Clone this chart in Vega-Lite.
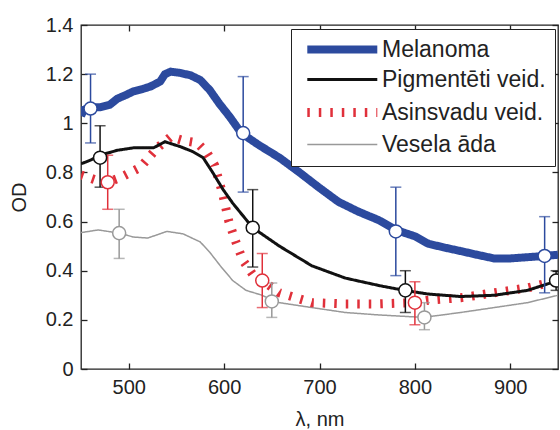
{
  "$schema": "https://vega.github.io/schema/vega-lite/v6.json",
  "width": 477,
  "height": 344,
  "autosize": {"type": "none"},
  "padding": {"left": 81, "top": 25, "right": 2, "bottom": 61},
  "config": {
    "font": "Liberation Sans",
    "view": {"stroke": "#222", "strokeWidth": 1.3},
    "axis": {
      "grid": false,
      "domain": false,
      "tickColor": "#222",
      "tickWidth": 1.3,
      "tickSize": 6,
      "offset": -6,
      "labelColor": "#222",
      "labelFontSize": 20,
      "labelPadding": 8,
      "titleFontSize": 20,
      "titleFontWeight": "normal",
      "titleColor": "#222"
    }
  },
  "datasets": {
    "curves": [
      {"series": "Vesela āda", "wl": 450, "od": 0.555},
      {"series": "Vesela āda", "wl": 468, "od": 0.566},
      {"series": "Vesela āda", "wl": 490, "od": 0.553},
      {"series": "Vesela āda", "wl": 505, "od": 0.537},
      {"series": "Vesela āda", "wl": 520, "od": 0.533},
      {"series": "Vesela āda", "wl": 540, "od": 0.56},
      {"series": "Vesela āda", "wl": 557, "od": 0.55},
      {"series": "Vesela āda", "wl": 575, "od": 0.517},
      {"series": "Vesela āda", "wl": 585, "od": 0.475},
      {"series": "Vesela āda", "wl": 596, "od": 0.42},
      {"series": "Vesela āda", "wl": 609, "od": 0.36},
      {"series": "Vesela āda", "wl": 623, "od": 0.32},
      {"series": "Vesela āda", "wl": 640, "od": 0.30},
      {"series": "Vesela āda", "wl": 650, "od": 0.28},
      {"series": "Vesela āda", "wl": 658, "od": 0.27},
      {"series": "Vesela āda", "wl": 692, "od": 0.25},
      {"series": "Vesela āda", "wl": 727, "od": 0.23},
      {"series": "Vesela āda", "wl": 762, "od": 0.22},
      {"series": "Vesela āda", "wl": 809, "od": 0.21},
      {"series": "Vesela āda", "wl": 848, "od": 0.23},
      {"series": "Vesela āda", "wl": 883, "od": 0.25},
      {"series": "Vesela āda", "wl": 918, "od": 0.27},
      {"series": "Vesela āda", "wl": 950, "od": 0.30},

      {"series": "Asinsvadu veid.", "wl": 450, "od": 0.79},
      {"series": "Asinsvadu veid.", "wl": 465, "od": 0.77},
      {"series": "Asinsvadu veid.", "wl": 478, "od": 0.76},
      {"series": "Asinsvadu veid.", "wl": 492, "od": 0.78},
      {"series": "Asinsvadu veid.", "wl": 512, "od": 0.82},
      {"series": "Asinsvadu veid.", "wl": 530, "od": 0.90},
      {"series": "Asinsvadu veid.", "wl": 544, "od": 0.945},
      {"series": "Asinsvadu veid.", "wl": 557, "od": 0.93},
      {"series": "Asinsvadu veid.", "wl": 572, "od": 0.92},
      {"series": "Asinsvadu veid.", "wl": 582, "od": 0.88},
      {"series": "Asinsvadu veid.", "wl": 590, "od": 0.83},
      {"series": "Asinsvadu veid.", "wl": 598, "od": 0.72},
      {"series": "Asinsvadu veid.", "wl": 605, "od": 0.60},
      {"series": "Asinsvadu veid.", "wl": 612, "od": 0.52},
      {"series": "Asinsvadu veid.", "wl": 620, "od": 0.44},
      {"series": "Asinsvadu veid.", "wl": 630, "od": 0.385},
      {"series": "Asinsvadu veid.", "wl": 640, "od": 0.36},
      {"series": "Asinsvadu veid.", "wl": 658, "od": 0.31},
      {"series": "Asinsvadu veid.", "wl": 692, "od": 0.27},
      {"series": "Asinsvadu veid.", "wl": 727, "od": 0.265},
      {"series": "Asinsvadu veid.", "wl": 762, "od": 0.265},
      {"series": "Asinsvadu veid.", "wl": 800, "od": 0.27},
      {"series": "Asinsvadu veid.", "wl": 814, "od": 0.28},
      {"series": "Asinsvadu veid.", "wl": 848, "od": 0.29},
      {"series": "Asinsvadu veid.", "wl": 883, "od": 0.31},
      {"series": "Asinsvadu veid.", "wl": 918, "od": 0.33},
      {"series": "Asinsvadu veid.", "wl": 950, "od": 0.36},

      {"series": "Pigmentēti veid.", "wl": 450, "od": 0.835},
      {"series": "Pigmentēti veid.", "wl": 460, "od": 0.85},
      {"series": "Pigmentēti veid.", "wl": 470, "od": 0.87},
      {"series": "Pigmentēti veid.", "wl": 488, "od": 0.89},
      {"series": "Pigmentēti veid.", "wl": 505, "od": 0.90},
      {"series": "Pigmentēti veid.", "wl": 526, "od": 0.90},
      {"series": "Pigmentēti veid.", "wl": 538, "od": 0.925},
      {"series": "Pigmentēti veid.", "wl": 554, "od": 0.905},
      {"series": "Pigmentēti veid.", "wl": 567, "od": 0.885},
      {"series": "Pigmentēti veid.", "wl": 578, "od": 0.86},
      {"series": "Pigmentēti veid.", "wl": 588, "od": 0.80},
      {"series": "Pigmentēti veid.", "wl": 599, "od": 0.73},
      {"series": "Pigmentēti veid.", "wl": 609, "od": 0.675},
      {"series": "Pigmentēti veid.", "wl": 630, "od": 0.575},
      {"series": "Pigmentēti veid.", "wl": 658, "od": 0.50},
      {"series": "Pigmentēti veid.", "wl": 692, "od": 0.42},
      {"series": "Pigmentēti veid.", "wl": 727, "od": 0.37},
      {"series": "Pigmentēti veid.", "wl": 762, "od": 0.34},
      {"series": "Pigmentēti veid.", "wl": 789, "od": 0.32},
      {"series": "Pigmentēti veid.", "wl": 814, "od": 0.305},
      {"series": "Pigmentēti veid.", "wl": 848, "od": 0.295},
      {"series": "Pigmentēti veid.", "wl": 883, "od": 0.30},
      {"series": "Pigmentēti veid.", "wl": 918, "od": 0.32},
      {"series": "Pigmentēti veid.", "wl": 950, "od": 0.36},

      {"series": "Melanoma", "wl": 450, "od": 1.03},
      {"series": "Melanoma", "wl": 453, "od": 1.055},
      {"series": "Melanoma", "wl": 460, "od": 1.065},
      {"series": "Melanoma", "wl": 470, "od": 1.065},
      {"series": "Melanoma", "wl": 480, "od": 1.075},
      {"series": "Melanoma", "wl": 488, "od": 1.10},
      {"series": "Melanoma", "wl": 497, "od": 1.115},
      {"series": "Melanoma", "wl": 505, "od": 1.13},
      {"series": "Melanoma", "wl": 515, "od": 1.14},
      {"series": "Melanoma", "wl": 523, "od": 1.15},
      {"series": "Melanoma", "wl": 533, "od": 1.17},
      {"series": "Melanoma", "wl": 538, "od": 1.20},
      {"series": "Melanoma", "wl": 544, "od": 1.21},
      {"series": "Melanoma", "wl": 554, "od": 1.205},
      {"series": "Melanoma", "wl": 565, "od": 1.195},
      {"series": "Melanoma", "wl": 575, "od": 1.176},
      {"series": "Melanoma", "wl": 585, "od": 1.135},
      {"series": "Melanoma", "wl": 595, "od": 1.08},
      {"series": "Melanoma", "wl": 606, "od": 1.026},
      {"series": "Melanoma", "wl": 618, "od": 0.96},
      {"series": "Melanoma", "wl": 637, "od": 0.91},
      {"series": "Melanoma", "wl": 658, "od": 0.86},
      {"series": "Melanoma", "wl": 679, "od": 0.80},
      {"series": "Melanoma", "wl": 699, "od": 0.74},
      {"series": "Melanoma", "wl": 720, "od": 0.68},
      {"series": "Melanoma", "wl": 741, "od": 0.64},
      {"series": "Melanoma", "wl": 762, "od": 0.606},
      {"series": "Melanoma", "wl": 780, "od": 0.566},
      {"series": "Melanoma", "wl": 800, "od": 0.54},
      {"series": "Melanoma", "wl": 814, "od": 0.51},
      {"series": "Melanoma", "wl": 830, "od": 0.495},
      {"series": "Melanoma", "wl": 848, "od": 0.48},
      {"series": "Melanoma", "wl": 865, "od": 0.465},
      {"series": "Melanoma", "wl": 883, "od": 0.45},
      {"series": "Melanoma", "wl": 900, "od": 0.45},
      {"series": "Melanoma", "wl": 918, "od": 0.455},
      {"series": "Melanoma", "wl": 936, "od": 0.46},
      {"series": "Melanoma", "wl": 950, "od": 0.465}
    ],
    "pts": [
      {"series": "Melanoma", "wl": 460, "od": 1.06, "lo": 0.92, "hi": 1.20},
      {"series": "Melanoma", "wl": 620, "od": 0.96, "lo": 0.72, "hi": 1.19},
      {"series": "Melanoma", "wl": 780, "od": 0.56, "lo": 0.38, "hi": 0.74},
      {"series": "Melanoma", "wl": 936, "od": 0.46, "lo": 0.31, "hi": 0.62},
      {"series": "Pigmentēti veid.", "wl": 470, "od": 0.86, "lo": 0.74, "hi": 0.99},
      {"series": "Pigmentēti veid.", "wl": 630, "od": 0.575, "lo": 0.415, "hi": 0.73},
      {"series": "Pigmentēti veid.", "wl": 790, "od": 0.32, "lo": 0.23, "hi": 0.40},
      {"series": "Pigmentēti veid.", "wl": 948, "od": 0.36, "lo": 0.32, "hi": 0.40},
      {"series": "Asinsvadu veid.", "wl": 478, "od": 0.76, "lo": 0.65, "hi": 0.87},
      {"series": "Asinsvadu veid.", "wl": 640, "od": 0.36, "lo": 0.25, "hi": 0.47},
      {"series": "Asinsvadu veid.", "wl": 800, "od": 0.27, "lo": 0.18, "hi": 0.355},
      {"series": "Vesela āda", "wl": 490, "od": 0.553, "lo": 0.45, "hi": 0.65},
      {"series": "Vesela āda", "wl": 650, "od": 0.275, "lo": 0.21, "hi": 0.35},
      {"series": "Vesela āda", "wl": 810, "od": 0.21, "lo": 0.16, "hi": 0.27}
    ]
  },
  "layer": [
    {
      "data": {"name": "curves"},
      "mark": {"type": "line", "clip": true},
      "encoding": {
        "x": {"field": "wl", "type": "quantitative",
              "scale": {"domain": [450, 950], "nice": false, "zero": false},
              "axis": {"values": [500, 600, 700, 800, 900], "title": "λ, nm", "titlePadding": 12}},
        "y": {"field": "od", "type": "quantitative",
              "scale": {"domain": [0, 1.4], "nice": false},
              "axis": {"values": [0, 0.2, 0.4, 0.6, 0.8, 1, 1.2, 1.4], "format": "~g", "title": "OD", "titlePadding": 16}},
        "color": {"field": "series", "type": "nominal",
                  "scale": {"domain": ["Melanoma", "Pigmentēti veid.", "Asinsvadu veid.", "Vesela āda"],
                            "range": ["#2c4a9e", "#111111", "#e0303a", "#999999"]},
                  "legend": {"title": null, "orient": "none", "legendX": 210, "legendY": 4,
                             "symbolType": "M-0.6,0H9.4", "symbolSize": 196, "labelFontSize": 23,
                             "labelLimit": 400, "labelColor": "#222", "labelOffset": 59,
                             "strokeColor": "#222", "fillColor": "white", "padding": 9, "rowPadding": 2}},
        "strokeWidth": {"field": "series", "type": "nominal",
                        "scale": {"type": "ordinal", "domain": ["Melanoma", "Pigmentēti veid.", "Asinsvadu veid.", "Vesela āda"],
                                  "range": [8, 3, 9, 1.5]}},
        "strokeDash": {"field": "series", "type": "nominal",
                       "scale": {"domain": ["Melanoma", "Pigmentēti veid.", "Asinsvadu veid.", "Vesela āda"],
                                 "range": [[1, 0], [1, 0], [2.5, 9], [1, 0]]}}
      }
    },
    {
      "data": {"name": "pts"},
      "mark": {"type": "rule", "strokeWidth": 1.5, "clip": true},
      "encoding": {
        "x": {"field": "wl", "type": "quantitative",
              "axis": {"orient": "top", "labels": false, "title": null, "values": [500, 600, 700, 800, 900]}},
        "y": {"field": "lo", "type": "quantitative",
              "axis": {"orient": "right", "labels": false, "title": null, "values": [0, 0.2, 0.4, 0.6, 0.8, 1, 1.2, 1.4]}},
        "y2": {"field": "hi"},
        "color": {"field": "series", "type": "nominal", "legend": null}
      }
    },
    {
      "data": {"name": "pts"},
      "mark": {"type": "tick", "orient": "horizontal", "size": 11, "thickness": 1.5, "clip": true},
      "encoding": {
        "x": {"field": "wl", "type": "quantitative", "axis": null},
        "y": {"field": "lo", "type": "quantitative", "axis": null},
        "color": {"field": "series", "type": "nominal", "legend": null}
      }
    },
    {
      "data": {"name": "pts"},
      "mark": {"type": "tick", "orient": "horizontal", "size": 11, "thickness": 1.5, "clip": true},
      "encoding": {
        "x": {"field": "wl", "type": "quantitative", "axis": null},
        "y": {"field": "hi", "type": "quantitative", "axis": null},
        "color": {"field": "series", "type": "nominal", "legend": null}
      }
    },
    {
      "data": {"name": "pts"},
      "mark": {"type": "point", "filled": false, "fill": "white", "fillOpacity": 1, "opacity": 1, "size": 170, "strokeWidth": 1.5, "clip": true},
      "encoding": {
        "x": {"field": "wl", "type": "quantitative", "axis": null},
        "y": {"field": "od", "type": "quantitative", "axis": null},
        "stroke": {"field": "series", "type": "nominal", "scale": {"domain": ["Melanoma", "Pigmentēti veid.", "Asinsvadu veid.", "Vesela āda"],
                            "range": ["#2c4a9e", "#111111", "#e0303a", "#999999"]}, "legend": null}
      }
    }
  ],
  "resolve": {"axis": {"x": "independent", "y": "independent"}}
}
